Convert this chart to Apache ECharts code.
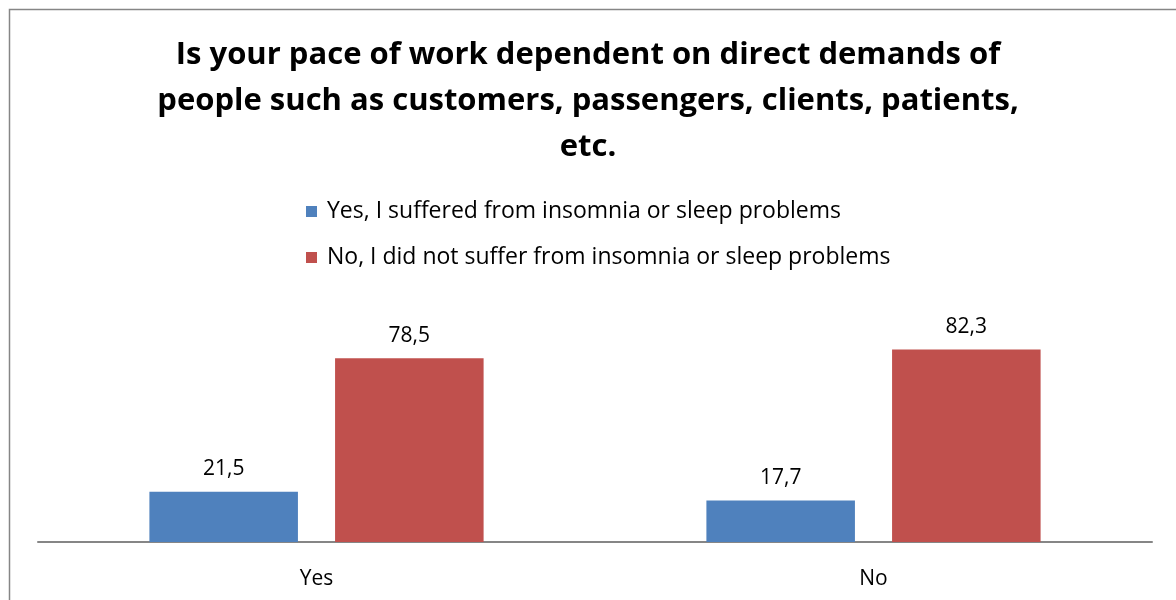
<!DOCTYPE html>
<html>
<head>
<meta charset="utf-8">
<script src="https://cdn.jsdelivr.net/npm/echarts@6/dist/echarts.min.js"></script>
<style>html,body{margin:0;padding:0;background:#fff;}#c{width:1176px;height:600px;}</style>
</head>
<body>
<div id="c"></div>
<script>
const titleText = 'Is your pace of work dependent on direct demands of\npeople such as customers, passengers, clients, patients,\netc.';
const categories = ['Yes', 'No'];
const seriesNames = ['Yes, I suffered from insomnia or sleep problems', 'No, I did not suffer from insomnia or sleep problems'];
const yesValues = [21.5, 17.7];
const noValues = [78.5, 82.3];
const colors = ['#4F81BD', '#C0504D'];

const font = '"Open Sans", "Liberation Sans", sans-serif';
const chart = echarts.init(document.getElementById('c'));
const labelFmt = p => String(p.value).replace('.', ',');
chart.setOption({
  animation: false,
  backgroundColor: '#fff',
  graphic: [{
    type: 'rect', shape: { x: 9.5, y: 9.5, width: 1200, height: 700 },
    style: { fill: 'none', stroke: '#868686', lineWidth: 1.5 }, silent: true
  }],
  title: {
    text: titleText, left: 'center', top: 27,
    textStyle: { fontFamily: font, fontWeight: 'bold', fontSize: 31, lineHeight: 46, color: '#000' }
  },
  legend: {
    orient: 'vertical', left: 301, top: 195, itemGap: 23, itemWidth: 11, itemHeight: 11,
    icon: 'rect',
    textStyle: { fontFamily: font, fontSize: 23, color: '#000', padding: [0, 0, 0, 5] },
    data: seriesNames
  },
  grid: { left: 38, right: 24, top: 308, bottom: 58 },
  xAxis: {
    type: 'category', data: categories,
    axisLine: { lineStyle: { color: '#868686', width: 2 } },
    axisTick: { show: false },
    axisLabel: { fontFamily: font, fontSize: 21, color: '#000', margin: 27 }
  },
  yAxis: { type: 'value', min: 0, max: 100, show: false, splitLine: { show: false } },
  series: [
    { name: seriesNames[0], type: 'bar', data: yesValues, itemStyle: { color: colors[0] },
      barGap: '25%', barCategoryGap: '40%',
      label: { show: true, position: 'top', distance: 12, formatter: labelFmt, fontFamily: font, fontSize: 21, color: '#000' } },
    { name: seriesNames[1], type: 'bar', data: noValues, itemStyle: { color: colors[1] },
      barGap: '25%', barCategoryGap: '40%',
      label: { show: true, position: 'top', distance: 12, formatter: labelFmt, fontFamily: font, fontSize: 21, color: '#000' } }
  ]
});
</script>
</body>
</html>
